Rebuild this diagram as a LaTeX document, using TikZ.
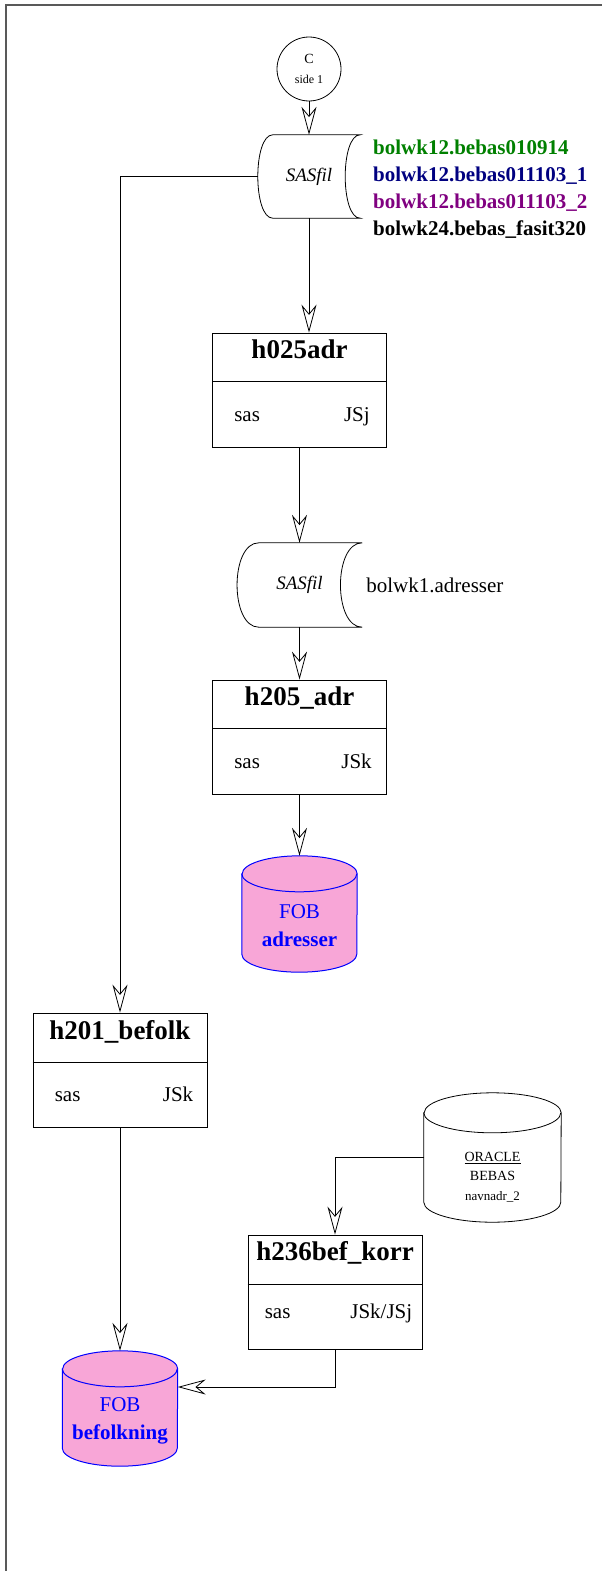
\documentclass[tikz,border=0pt]{standalone}
\usepackage{fontspec}
\setmainfont{Liberation Serif}
\usetikzlibrary{positioning,arrows.meta}
\definecolor{filegreen}{RGB}{0,128,0}
\definecolor{filenavy}{RGB}{0,0,128}
\definecolor{filepurple}{RGB}{128,0,128}

\begin{document}
\begin{tikzpicture}[x=1pt,y=-1pt,
  flow/.style={draw, line width=0.8pt, -{Stealth[open,length=28pt,width=15pt,inset=9pt]}},
  link/.style={draw, line width=0.8pt},
  prog/.style={draw, line width=0.8pt, minimum width=174pt, minimum height=114pt, inner sep=0pt},
  ptitle/.style={font=\fontsize{27}{30}\selectfont\bfseries, inner sep=0pt, anchor=base},
  ptext/.style={font=\fontsize{21}{24}\selectfont, inner sep=0pt},
  sasnode/.style={inner sep=0pt, font=\fontsize{19}{22}\selectfont\itshape},
  dbnode/.style={inner sep=0pt},
  fobfill/.style={draw=blue, fill=magenta!35, line width=1pt},
  fobtext/.style={inner sep=0pt, align=center, text=blue, font=\fontsize{21}{28}\selectfont},
]
\useasboundingbox (0,0) rectangle (602,1571);
\draw[line width=1.3pt, black!65] (6,1571) -- (6,5) -- (602,5);

\node[circle, draw, line width=0.8pt, minimum size=64pt, inner sep=0pt, align=center,
  font=\fontsize{14}{20}\selectfont] (sidec) at (309,69) {C\\{\fontsize{12}{14}\selectfont side 1}};

\node[sasnode, minimum width=102pt, minimum height=83pt] (sas1) at (309,176.5) {SASfil};
\draw[link] ([xshift=15pt]sas1.north west) -- (sas1.north east)
  .. controls +(-20,0) and +(-20,0) .. (sas1.south east) -- ([xshift=15pt]sas1.south west)
  .. controls +(-20,0) and +(-20,0) .. ([xshift=15pt]sas1.north west);
\node[anchor=west, align=left, inner sep=0pt, font=\fontsize{21}{27}\selectfont\bfseries] (sasfiles) at (373,189)
  {\textcolor{filegreen}{bolwk12.bebas010914}\\\textcolor{filenavy}{bolwk12.bebas011103\_1}\\\textcolor{filepurple}{bolwk12.bebas011103\_2}\\bolwk24.bebas\_fasit320};

\node[prog] (h025) at (299.5,390) {};
\draw[link] ([yshift=-49pt]h025.north west) -- ([yshift=-49pt]h025.north east);
\node[ptitle] (h025t) at ([yshift=-26pt]h025.north) {h025adr};
\node[ptext, anchor=base west] (h025s) at ([xshift=22pt,yshift=26pt]h025.south west) {sas};
\node[ptext, anchor=base east] (h025j) at ([xshift=-17pt,yshift=26pt]h025.south east) {JSj};

\node[sasnode, minimum width=125pt, minimum height=84pt] (sas2) at (299.5,585) {SASfil};
\draw[link] ([xshift=22pt]sas2.north west) -- (sas2.north east)
  .. controls +(-29,0) and +(-29,0) .. (sas2.south east) -- ([xshift=22pt]sas2.south west)
  .. controls +(-29,0) and +(-29,0) .. ([xshift=22pt]sas2.north west);
\node[right=4pt of sas2, ptext] (adrfile) {bolwk1.adresser};

\node[prog] (h205) at (299.5,737) {};
\draw[link] ([yshift=-49pt]h205.north west) -- ([yshift=-49pt]h205.north east);
\node[ptitle] (h205t) at ([yshift=-26pt]h205.north) {h205\_adr};
\node[ptext, anchor=base west] (h205s) at ([xshift=22pt,yshift=26pt]h205.south west) {sas};
\node[ptext, anchor=base east] (h205j) at ([xshift=-15pt,yshift=26pt]h205.south east) {JSk};

\node[dbnode, minimum width=115pt, minimum height=116pt] (fobadr) at (299.5,914) {};
\filldraw[fobfill] ([yshift=-18pt]fobadr.north west) -- ([yshift=18pt]fobadr.south west)
  arc[start angle=180, end angle=360, x radius=57.5pt, y radius=18pt]
  -- ([yshift=-18pt]fobadr.north east)
  arc[start angle=0, end angle=180, x radius=57.5pt, y radius=18pt] -- cycle;
\draw[draw=blue, line width=1pt] ([yshift=-18pt]fobadr.north west)
  arc[start angle=180, end angle=360, x radius=57.5pt, y radius=18pt];
\node[fobtext] (fobadrt) at ([yshift=-12pt]fobadr.center) {FOB\\\textbf{adresser}};

\node[prog] (h201) at (120,1070) {};
\draw[link] ([yshift=-50pt]h201.north west) -- ([yshift=-50pt]h201.north east);
\node[ptitle] (h201t) at ([yshift=-27pt]h201.north) {h201\_befolk};
\node[ptext, anchor=base west] (h201s) at ([xshift=22pt,yshift=26pt]h201.south west) {sas};
\node[ptext, anchor=base east] (h201j) at ([xshift=-14pt,yshift=26pt]h201.south east) {JSk};

\node[dbnode, minimum width=137pt, minimum height=129pt] (oracle) at (492.5,1157.5) {};
\filldraw[draw=black, fill=white, line width=0.8pt] ([yshift=-20pt]oracle.north west) -- ([yshift=20pt]oracle.south west)
  arc[start angle=180, end angle=360, x radius=68.5pt, y radius=20pt]
  -- ([yshift=-20pt]oracle.north east)
  arc[start angle=0, end angle=180, x radius=68.5pt, y radius=20pt] -- cycle;
\draw[line width=0.8pt] ([yshift=-20pt]oracle.north west)
  arc[start angle=180, end angle=360, x radius=68.5pt, y radius=20pt];
\node[inner sep=0pt, align=center, font=\fontsize{14}{19.5}\selectfont] (oraclet) at ([yshift=-19.5pt]oracle.center)
  {\underline{ORACLE}\\BEBAS\\{\fontsize{13}{15}\selectfont navnadr\_2}};

\node[prog] (h236) at (335,1292) {};
\draw[link] ([yshift=-50pt]h236.north west) -- ([yshift=-50pt]h236.north east);
\node[ptitle] (h236t) at ([yshift=-26pt]h236.north) {h236bef\_korr};
\node[ptext, anchor=base west] (h236s) at ([xshift=17pt,yshift=31pt]h236.south west) {sas};
\node[ptext, anchor=base east] (h236j) at ([xshift=-10pt,yshift=31pt]h236.south east) {JSk/JSj};

\node[dbnode, minimum width=115pt, minimum height=115pt] (fobbef) at (120,1408.5) {};
\filldraw[fobfill] ([yshift=-18pt]fobbef.north west) -- ([yshift=18pt]fobbef.south west)
  arc[start angle=180, end angle=360, x radius=57.5pt, y radius=18pt]
  -- ([yshift=-18pt]fobbef.north east)
  arc[start angle=0, end angle=180, x radius=57.5pt, y radius=18pt] -- cycle;
\draw[draw=blue, line width=1pt] ([yshift=-18pt]fobbef.north west)
  arc[start angle=180, end angle=360, x radius=57.5pt, y radius=18pt];
\node[fobtext] (fobbeft) at ([yshift=-12pt]fobbef.center) {FOB\\\textbf{befolkning}};

\draw[flow] (sidec) -- (sas1);
\draw[flow] (sas1.south) -- (sas1.south |- h025.north);
\draw[flow] (sas1.west) -| (h201.north);
\draw[flow] (h025) -- (sas2);
\draw[flow] (sas2) -- (h205);
\draw[flow] (h205) -- (fobadr);
\draw[flow] (h201) -- (fobbef);
\draw[flow] (oracle.west) -| (h236.north);
\draw[flow] (h236.south) |- ([yshift=21.5pt]fobbef.east);
\end{tikzpicture}
\end{document}
